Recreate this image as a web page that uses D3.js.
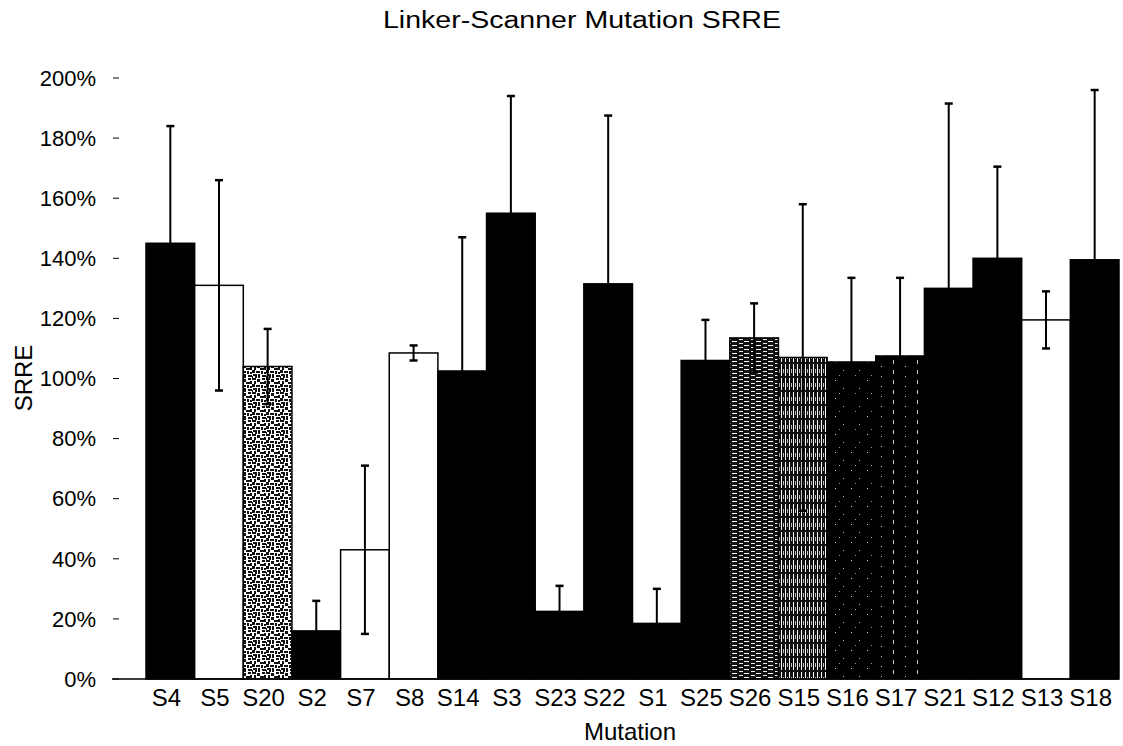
<!DOCTYPE html>
<html>
<head>
<meta charset="utf-8">
<script src="https://cdn.jsdelivr.net/npm/d3@7"></script>
<style>
  body { margin: 0; background: #fff; }
  text { font-family: "Liberation Sans", Arial, sans-serif; fill: #000; }
</style>
</head>
<body>
<div id="chart"></div>
<script>
// data
const mutations = ["S4","S5","S20","S2","S7","S8","S14","S3","S23","S22","S1","S25","S26","S15","S16","S17","S21","S12","S13","S18"];
const srre = [145,131,104,16,43,108.5,102.5,155,22.5,131.5,18.5,106,113.5,107,105.5,107.5,130,140,119.5,139.5];
const srreErr = [39,35,12.5,10,28,2.5,44.5,39,8.5,56,11.5,13.5,11.5,51,28,26,61.5,30.5,9.5,56.5];
const fills = ["black","white","dots","black","white","white","black","black","black","black","black","black","hlines","vlines","specks","specks2","black","black","white","black"];
const yTicks = [0,20,40,60,80,100,120,140,160,180,200];

const W = 1123, H = 746;
const svg = d3.select("#chart").append("svg").attr("width", W).attr("height", H);

const x = d3.scaleBand().domain(mutations).range([146, 1119]).padding(0);
const y = d3.scaleLinear().domain([0, 200]).range([679, 78]);

// patterns (scanned-print look)
const defs = svg.append("defs");
function pattern(id, w, h, bg) {
    const p = defs.append("pattern").attr("id", id).attr("patternUnits", "userSpaceOnUse")
        .attr("width", w).attr("height", h);
    p.append("rect").attr("width", w).attr("height", h).attr("fill", bg);
    return p;
}
// mottled stipple for S20
const dots = pattern("dots", 14, 14, "#fff");
[[0,0,4,2],[5,1,3,3],[10,0,3,2],[2,3,2,3],[8,4,4,2],[12,3,2,3],[0,6,3,3],[4,7,4,2],[9,7,2,3],
 [1,10,4,2],[6,10,2,4],[10,11,4,2],[3,12,2,2],[12,8,2,2],[7,2,1,2],[0,12,1,2]].forEach((r) => {
    dots.append("rect").attr("x", r[0]).attr("y", r[1]).attr("width", r[2]).attr("height", r[3]).attr("fill", "#111");
});
// horizontal dashes for S26
const hl = pattern("hlines", 12, 4, "#111");
hl.append("rect").attr("x", 0).attr("y", 1).attr("width", 5).attr("height", 1).attr("fill", "#fff");
hl.append("rect").attr("x", 7).attr("y", 3).attr("width", 4).attr("height", 1).attr("fill", "#eee");
// vertical lines for S15
const vl = pattern("vlines", 4, 14, "#111");
vl.append("rect").attr("x", 1).attr("y", 0).attr("width", 1).attr("height", 12).attr("fill", "#fff");
vl.append("rect").attr("x", 3).attr("y", 5).attr("width", 1).attr("height", 4).attr("fill", "#bbb");
// dark with specks for S16 / S17
const sp = pattern("specks", 16, 18, "#000");
sp.append("rect").attr("x", 3).attr("y", 2).attr("width", 1).attr("height", 1).attr("fill", "#ddd");
sp.append("rect").attr("x", 11).attr("y", 10).attr("width", 1).attr("height", 1).attr("fill", "#bbb");
sp.append("rect").attr("x", 7).attr("y", 15).attr("width", 1).attr("height", 1).attr("fill", "#999");
const sp2 = pattern("specks2", 24, 10, "#000");
sp2.append("rect").attr("x", 5).attr("y", 0).attr("width", 1).attr("height", 4).attr("fill", "#ccc");
sp2.append("rect").attr("x", 17).attr("y", 6).attr("width", 1).attr("height", 1).attr("fill", "#ddd");

const fillOf = (f) => (f === "black" || f === "white") ? f : `url(#${f})`;

// title
svg.append("text").attr("x", 582).attr("y", 28).attr("text-anchor", "middle")
    .attr("textLength", 398).attr("lengthAdjust", "spacingAndGlyphs")
    .style("font-size", "23px").text("Linker-Scanner Mutation SRRE");

// y ticks and labels (no visible axis line)
const yAxis = svg.append("g");
yAxis.selectAll("line.tick").data(yTicks).enter().append("line")
    .attr("class", "tick")
    .attr("x1", 113).attr("x2", 119)
    .attr("y1", (d) => y(d)).attr("y2", (d) => y(d))
    .attr("stroke", "#000").attr("stroke-width", 1);
yAxis.selectAll("text").data(yTicks).enter().append("text")
    .attr("x", 96).attr("y", (d) => y(d)).attr("dy", "0.35em")
    .attr("text-anchor", "end").style("font-size", "22px")
    .text((d) => d + "%");

svg.append("text").attr("transform", "translate(32,378) rotate(-90)")
    .attr("text-anchor", "middle").style("font-size", "24px").text("SRRE");

// bars
const rows = mutations.map((m, i) => ({ m, v: srre[i], e: srreErr[i], f: fills[i] }));
svg.append("g").selectAll("rect").data(rows).enter().append("rect")
    .attr("x", (d) => x(d.m)).attr("width", x.bandwidth())
    .attr("y", (d) => y(d.v)).attr("height", (d) => y(0) - y(d.v))
    .attr("fill", (d) => fillOf(d.f))
    .attr("stroke", "#000").attr("stroke-width", 1.5);

// error bars
const eb = svg.append("g");
const cx = (d) => x(d.m) + x.bandwidth() / 2;
eb.selectAll("line.v").data(rows).enter().append("line").attr("class", "v")
    .attr("x1", cx).attr("x2", cx)
    .attr("y1", (d) => y(d.v - d.e)).attr("y2", (d) => y(d.v + d.e))
    .attr("stroke", "#000").attr("stroke-width", 2);
eb.selectAll("line.top").data(rows).enter().append("line").attr("class", "top")
    .attr("x1", (d) => cx(d) - 4).attr("x2", (d) => cx(d) + 4)
    .attr("y1", (d) => y(d.v + d.e)).attr("y2", (d) => y(d.v + d.e))
    .attr("stroke", "#000").attr("stroke-width", 2.5);
eb.selectAll("line.bot").data(rows).enter().append("line").attr("class", "bot")
    .attr("x1", (d) => cx(d) - 4).attr("x2", (d) => cx(d) + 4)
    .attr("y1", (d) => y(d.v - d.e)).attr("y2", (d) => y(d.v - d.e))
    .attr("stroke", "#000").attr("stroke-width", 2.5);

// baseline
svg.append("line").attr("x1", 112).attr("x2", 1119)
    .attr("y1", y(0)).attr("y2", y(0)).attr("stroke", "#000").attr("stroke-width", 1.5);

// x labels
svg.append("g").selectAll("text").data(mutations).enter().append("text")
    .attr("x", (d) => x(d) + x.bandwidth() / 2 - 4).attr("y", 706)
    .attr("text-anchor", "middle").style("font-size", "24px").text((d) => d);

svg.append("text").attr("x", 630).attr("y", 740).attr("text-anchor", "middle")
    .style("font-size", "24px").text("Mutation");
</script>
</body>
</html>
